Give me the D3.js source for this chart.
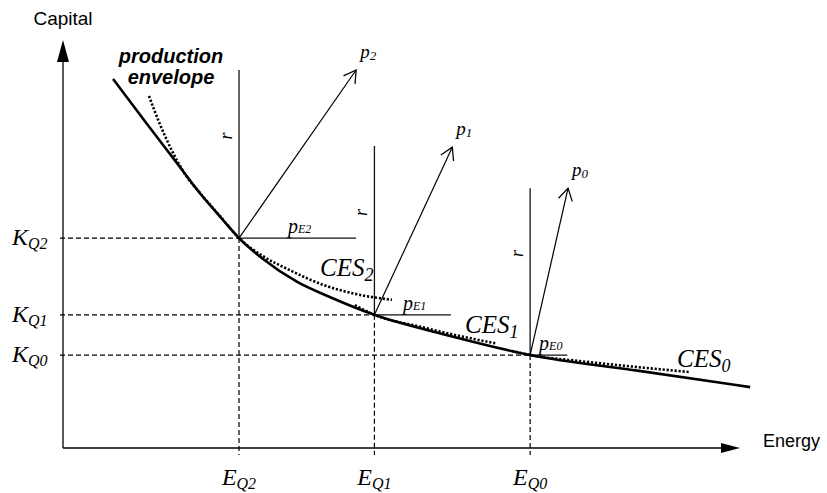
<!DOCTYPE html>
<html>
<head>
<meta charset="utf-8">
<script src="https://cdn.jsdelivr.net/npm/d3@7"></script>
<style>
  body { margin: 0; background: #fff; }
  .sans { font-family: Arial, "Liberation Sans", sans-serif; }
  .serif { font-family: "Times New Roman", "Liberation Serif", serif; font-style: italic; }
</style>
</head>
<body>
<div id="chart"></div>
<script>
// data (abstract units, 0-100 on both axes)
var levels = ["2", "1", "0"];
var energyQ = [26, 46, 69];        // E_Q2, E_Q1, E_Q0
var capitalQ = [51.7, 32.8, 22.9];  // K_Q2, K_Q1, K_Q0

// production envelope
var envX = [7.4, 12.1, 16.5, 20.2, 23.5, 26, 29.5, 34.6, 39.4, 46, 57.2, 69, 85.1, 101.5];
var envY = [90.9, 80.5, 70.9, 62.8, 56.4, 51.7, 46.6, 40.9, 37.2, 32.8, 27.6, 22.9, 19.0, 15.0];

// CES isoquants (dotted)
var ces2X = [12.7, 14.3, 16.1, 18.2, 20.2, 23.2, 26, 29.5, 33.5, 38.4, 43.9, 48.6];
var ces2Y = [86.7, 79.8, 73.2, 67.0, 62.9, 57.1, 51.7, 47.3, 43.8, 40.2, 37.7, 36.5];
var ces1X = [43.1, 46, 52.7, 58.6, 64.1];
var ces1Y = [35.2, 32.8, 29.9, 27.6, 25.7];
var ces0X = [66.3, 69, 76.4, 83.8, 92.6];
var ces0Y = [23.9, 22.9, 21.4, 20.1, 18.7];

// r lines (top), p_E lines (right end), price vectors (tips)
var rTop = [93.1, 74.4, 64.0];
var pEEnd = [43.3, 57.3, 74.5];
var pTipX = [43.3, 57.5, 74.6];
var pTipY = [93.1, 74.1, 64.0];

var svgWidth = 827, svgHeight = 493;

var svg = d3.select("#chart").append("svg")
  .attr("width", svgWidth)
  .attr("height", svgHeight);

var x = d3.scaleLinear().domain([0, 100]).range([63, 740]);
var y = d3.scaleLinear().domain([0, 100]).range([448, 42]);

// arrow marker (open chevron)
svg.append("defs").append("marker")
  .attr("id", "chev")
  .attr("viewBox", "-14 -9 16 18")
  .attr("refX", 0).attr("refY", 0)
  .attr("markerWidth", 16).attr("markerHeight", 18)
  .attr("markerUnits", "userSpaceOnUse")
  .attr("orient", "auto")
  .append("path")
  .attr("d", "M-12,-7 L0,0 L-12,7")
  .attr("fill", "none")
  .attr("stroke", "#000")
  .attr("stroke-width", 1.3);

// axes
var x0 = x(0), y0 = y(0);
svg.append("line")
  .attr("x1", x0).attr("y1", y0).attr("x2", x0).attr("y2", y(100) + 18)
  .attr("stroke", "#000").attr("stroke-width", 1.3);
svg.append("path")
  .attr("d", `M${x0},${y(100) - 2} L${x0 - 6},${y(100) + 20} L${x0 + 6},${y(100) + 20} Z`)
  .attr("fill", "#000");
svg.append("line")
  .attr("x1", x0).attr("y1", y0).attr("x2", x(100) - 16).attr("y2", y0)
  .attr("stroke", "#000").attr("stroke-width", 1.3);
svg.append("path")
  .attr("d", `M${x(100)},${y0} L${x(100) - 19},${y0 - 5} L${x(100) - 19},${y0 + 5} Z`)
  .attr("fill", "#000");

svg.append("text").attr("class", "sans")
  .attr("x", x0).attr("y", 25)
  .attr("text-anchor", "middle")
  .attr("font-size", 19).text("Capital");
svg.append("text").attr("class", "sans")
  .attr("x", 763).attr("y", 447).attr("font-size", 18).text("Energy");

// dashed guide lines
levels.forEach(function(lv, i) {
  svg.append("line")
    .attr("x1", x0 - 3).attr("y1", y(capitalQ[i]))
    .attr("x2", x(energyQ[i])).attr("y2", y(capitalQ[i]))
    .attr("stroke", "#000").attr("stroke-width", 1.2)
    .attr("stroke-dasharray", "5,3");
  svg.append("line")
    .attr("x1", x(energyQ[i])).attr("y1", y(capitalQ[i]))
    .attr("x2", x(energyQ[i])).attr("y2", y0 + 7)
    .attr("stroke", "#000").attr("stroke-width", 1.2)
    .attr("stroke-dasharray", "5,3");
});

// subscript label helper
function subLabel(px, py, main, sub, mainSize, subSize, dy, anchor) {
  var t = svg.append("text").attr("class", "serif")
    .attr("x", px).attr("y", py)
    .attr("font-size", mainSize)
    .attr("text-anchor", anchor || "start");
  t.append("tspan").text(main);
  t.append("tspan").attr("font-size", subSize).attr("dy", dy).text(sub);
  return t;
}

// axis labels K_Q and E_Q
levels.forEach(function(lv, i) {
  subLabel(12, y(capitalQ[i]) + 7, "K", "Q" + lv, 24, 16, 4);
  subLabel(x(energyQ[i]), 485, "E", "Q" + lv, 24, 16, 4, "middle");
});

// r lines, p_E lines and price vectors
levels.forEach(function(lv, i) {
  var ex = x(energyQ[i]), ky = y(capitalQ[i]);
  svg.append("line")
    .attr("x1", ex).attr("y1", ky).attr("x2", ex).attr("y2", y(rTop[i]))
    .attr("stroke", "#111").attr("stroke-width", 1.3);
  svg.append("line")
    .attr("x1", ex).attr("y1", ky).attr("x2", x(pEEnd[i])).attr("y2", ky)
    .attr("stroke", "#111").attr("stroke-width", 1.3);
  svg.append("line")
    .attr("x1", ex).attr("y1", ky).attr("x2", x(pTipX[i])).attr("y2", y(pTipY[i]))
    .attr("stroke", "#000").attr("stroke-width", 1.2)
    .attr("marker-end", "url(#chev)");

  // r label
  var rMid = (ky + y(rTop[i])) / 2 - 18;
  svg.append("text").attr("class", "serif")
    .attr("transform", `translate(${ex - 7}, ${rMid}) rotate(-90)`)
    .attr("text-anchor", "middle")
    .attr("font-size", 18)
    .text("r");

  // p_E label
  subLabel((ex + x(pEEnd[i])) / 2 + 2, ky - 5, "p", "E" + lv, 20, 12, 0, "middle");

  // p label
  subLabel(x(pTipX[i]) + 4, y(pTipY[i]) - 12, "p", lv, 19, 13, 2);
});

// curves
var line = d3.line()
  .x(d => x(d[0]))
  .y(d => y(d[1]))
  .curve(d3.curveMonotoneX);

function zip(a, b) { return a.map((v, i) => [v, b[i]]); }

[[ces2X, ces2Y], [ces1X, ces1Y], [ces0X, ces0Y]].forEach(function(c) {
  svg.append("path")
    .datum(zip(c[0], c[1]))
    .attr("d", line)
    .attr("fill", "none")
    .attr("stroke", "#000")
    .attr("stroke-width", 2.6)
    .attr("stroke-dasharray", "2.2,1.8");
});

svg.append("path")
  .datum(zip(envX, envY))
  .attr("d", line)
  .attr("fill", "none")
  .attr("stroke", "#000")
  .attr("stroke-width", 2.6);

// CES labels
subLabel(320, 276, "CES", "2", 25, 18, 5);
subLabel(465, 333, "CES", "1", 25, 18, 5);
subLabel(677, 367, "CES", "0", 25, 18, 5);

// production envelope label
svg.append("text").attr("class", "sans")
  .attr("x", 171).attr("y", 63)
  .attr("text-anchor", "middle")
  .attr("font-size", 20).attr("font-weight", "bold").attr("font-style", "italic")
  .text("production");
svg.append("text").attr("class", "sans")
  .attr("x", 171).attr("y", 84)
  .attr("text-anchor", "middle")
  .attr("font-size", 20).attr("font-weight", "bold").attr("font-style", "italic")
  .text("envelope");
</script>
</body>
</html>
